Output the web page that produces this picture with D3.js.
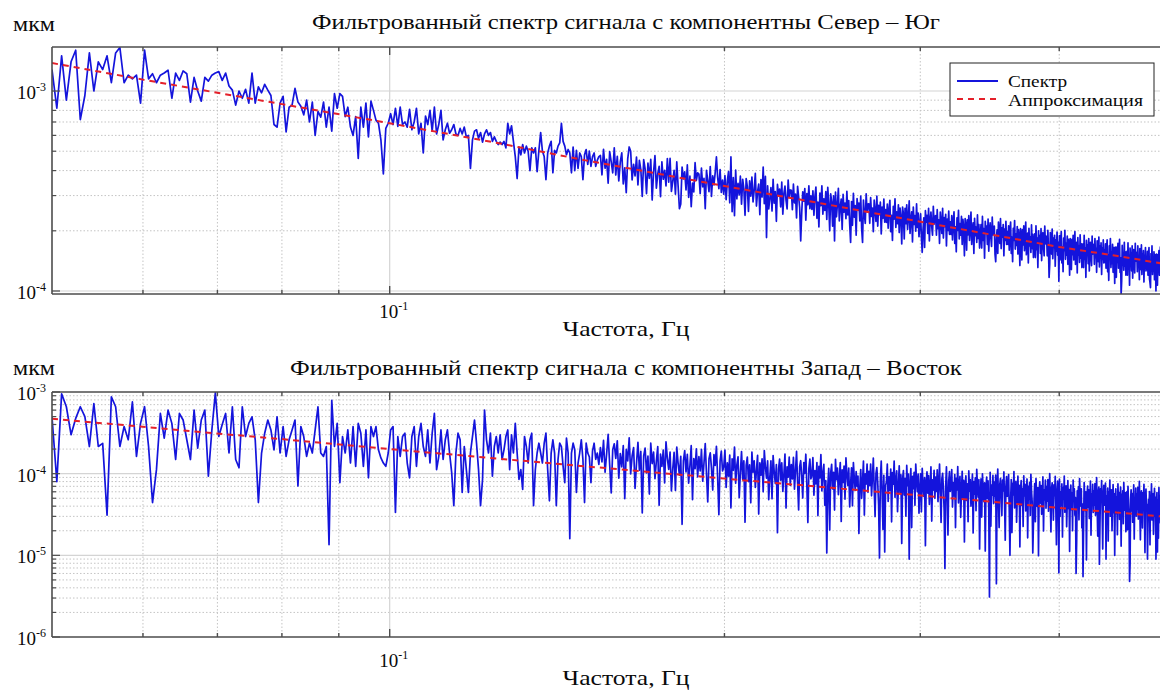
<!DOCTYPE html>
<html><head><meta charset="utf-8">
<script src="https://cdn.jsdelivr.net/npm/d3@7"></script>
<style>
body{margin:0;background:#fff}
svg{display:block;background:#fff}
</style>
</head><body>
<svg id="chart" width="1160" height="690"></svg>
<script>
// Frequency grid of the spectra (Hz): uniform step
const freqStart = 0.0497, freqStep = 0.0005;

// North–South spectrum, units of 1e-6 мкм
const nsSpectrum = [
1280,820,1500,900,1400,1600,720,950,1550,1000,
1400,1280,1500,1100,1550,1650,1100,1200,1150,1200,
870,1600,1150,1220,1100,1200,1230,1270,920,1230,
1130,1260,1220,880,1170,1000,890,1170,1120,1200,
1230,1250,1130,1230,1060,1010,850,1000,920,1020,
870,1230,870,1050,980,1080,1010,950,680,660,
870,940,625,830,850,1030,880,840,760,900,
700,880,600,790,740,880,660,830,630,970,
820,970,940,745,830,660,600,745,460,830,
660,870,590,890,800,715,690,570,385,650,
690,770,680,820,665,830,680,700,660,810,
640,700,820,610,690,490,750,680,800,630,
830,610,680,800,570,640,690,615,640,680,
610,600,650,610,660,590,600,410,570,630,
640,580,620,555,610,640,600,620,560,590,
560,540,555,540,560,520,690,610,670,560,
470,365,525,480,540,490,530,500,400,520,
490,520,395,505,620,500,470,360,490,530,
560,390,505,490,530,550,690,560,530,480,
510,490,390,525,400,505,410,490,470,360,
480,510,430,500,420,470,490,420,450,470,
476,381,511,411,455,346,498,442,390,520,
380,471,355,442,491,343,413,310,458,525,500,359,430,376,467,339,450,405,297,454,
408,307,436,366,455,285,393,475,327,385,420,296,443,362,401,335,459,350,460,315,
353,401,305,442,335,258,272,416,364,394,320,427,294,375,264,346,313,438,357,390,
384,307,412,332,366,258,401,356,314,419,297,377,339,391,468,370,325,405,311,359,
305,378,286,355,395,276,468,249,369,238,402,289,345,302,375,272,362,325,239,365,
333,250,355,298,371,279,320,387,266,314,342,241,361,295,417,273,374,185,336,257,
290,329,251,362,275,314,223,341,299,323,263,350,242,308,335,284,257,359,293,320,
319,255,342,276,305,232,334,296,261,178,247,313,281,325,226,307,270,336,258,299,
256,317,239,297,331,231,278,209,309,267,336,242,289,253,314,228,330,272,200,306,
280,211,299,178,312,235,270,326,224,264,288,203,304,248,275,230,315,240,283,216,
175,280,213,308,234,267,190,290,254,275,224,298,206,175,285,242,218,306,249,272,
273,218,293,236,260,198,285,253,223,298,211,268,241,278,193,263,231,288,221,255,
220,272,206,256,284,198,239,179,265,229,289,208,249,217,270,196,260,234,172,263,
243,182,259,217,270,203,233,282,194,229,249,176,263,215,238,199,273,208,245,187,
214,243,185,156,203,232,165,252,221,239,194,259,178,227,248,210,190,265,216,236,
238,190,255,205,227,173,248,220,194,259,184,233,210,242,168,229,201,251,192,222,
192,238,180,224,249,173,209,157,232,201,253,182,217,190,236,171,228,205,150,230,
213,160,227,191,238,179,205,248,171,201,219,154,231,189,209,175,240,183,215,164,
189,215,164,236,179,205,146,223,195,211,171,229,158,201,219,185,167,234,191,209,
211,153,140,182,202,154,221,196,173,230,163,207,186,215,150,204,179,223,171,198,
171,212,160,199,221,154,186,140,206,179,225,162,193,169,210,153,203,182,134,205,
190,143,203,170,212,159,183,221,152,179,195,138,206,168,186,156,214,163,192,147,
170,193,147,212,161,184,131,200,175,189,154,205,142,181,196,166,150,211,172,188,
187,150,201,162,117,136,196,173,153,204,145,184,165,190,133,180,158,197,151,175,
112,189,143,178,198,138,166,125,184,159,201,144,173,151,188,136,181,163,120,183,
170,128,181,152,190,143,164,198,136,160,175,123,185,151,167,139,191,146,172,131,
152,172,131,190,144,164,117,179,156,169,137,183,126,161,175,149,134,188,153,167,
171,136,183,147,163,124,178,158,140,186,132,167,150,174,121,164,144,180,138,160,
139,172,130,162,180,125,151,113,168,145,183,131,157,137,171,124,165,148,109,166,
155,117,166,139,173,130,149,181,124,147,96,112,169,138,152,127,175,133,157,120,
139,158,120,174,132,151,107,164,144,155,126,168,116,148,161,136,123,173,141,154,
156,125,168,135,149,114,163,145,128,170,121,153,138,159,111,151,132,165,126,146,
128,158,120,149,165,115,110,104,154,133,168,121,145,126,157,114,152,136,100,153,
143,107,152,128,159,120,137,166,114,135,147,103,155,126,140,117,160,122,144,110,130
];

// West–East spectrum, units of 1e-7 мкм
const ewSpectrum = [
4950,800,9500,6600,3000,4750,6600,5000,2150,7200,
2150,2350,310,8700,6600,2150,3770,2600,7550,1630,
4130,6600,2150,443,1120,5460,2720,6000,4130,1490,
5460,4540,2600,1490,6000,2050,4540,6000,930,3430,
9800,2850,4000,5460,1790,6600,1490,1180,6600,2850,
4130,4970,2600,443,1790,3130,4540,3430,1960,4970,
1790,3770,1630,2600,3430,4540,705,3770,2850,1630,
2360,1790,3430,6600,1790,1630,2150,135,7920,2150,
4130,775,2850,1790,3430,1350,3770,1230,4130,3130,
1230,3430,890,3770,2850,3770,1960,1560,1350,1230,
1790,3430,3770,335,2850,1630,2850,3130,1350,890,
2850,3770,1230,2850,4130,2150,1630,3430,1350,3130,
5460,1120,1630,3430,1490,2600,3430,1790,1030,405,
1790,3130,2600,590,2150,1120,590,1790,2850,4540,
2360,1120,405,850,6000,2600,1790,3130,930,2150,
2850,1790,2990,1490,1960,2850,3430,1120,2990,1790,
4130,1790,850,1120,640,2850,2150,1350,2600,3130,
405,1120,1790,2360,1790,1350,2360,3130,1120,465,
1790,2600,1790,405,1490,2360,2150,1230,775,2720,
1790,160,1790,2360,1960,590,1350,1790,2600,1490,
443,2360,1790,1600,775,1900,2360,1500,1790,1300,
2090,1390,2550,1040,1740,3020,1280,580,1970,2320,
1540,2530,880,1760,1210,2200,495,1980,1430,2750,990,1650,2090,660,1320,2420,1100,1870,330,1650,
2050,1020,1640,563,2360,1330,1840,870,1430,2150,410,1740,1230,1950,770,2460,1540,1130,1840,614,
1150,1820,623,2110,1340,958,1630,240,1440,1920,1050,1720,766,1250,2200,479,1530,1150,2010,910,
1620,1080,1980,810,1350,2340,990,450,1530,1800,1170,630,1710,1260,2160,900,315,1440,1890,1080,
1190,1950,678,1360,932,1690,381,1520,1100,2120,762,1270,1610,508,1020,1860,847,1440,254,1270,
1600,800,1280,440,1840,1040,1440,680,1120,1680,320,1360,960,1520,600,1920,1200,880,1440,480,
908,1440,492,1670,1060,757,1290,189,1140,1510,833,1360,606,984,1740,379,1210,908,1590,719,
1290,863,1580,647,1080,1870,791,360,1220,1440,935,503,1370,1010,1730,719,252,1150,1510,863,
956,1570,546,1090,751,1370,307,1230,888,1710,615,1020,1300,410,820,107,683,1160,205,1020,
1300,651,1040,358,1500,846,1170,553,911,1370,260,1110,781,1240,488,1560,977,716,1170,391,
746,1180,404,1370,871,622,1060,700,933,185,684,1120,498,809,1430,311,995,746,1310,591,
1070,714,1310,536,893,1550,655,298,1010,1190,774,417,93,833,1430,595,208,952,110,714,
798,1310,456,912,627,1140,257,1030,741,1430,513,855,1080,342,684,1250,570,969,140,855,
1090,547,875,301,1260,711,985,90,766,1150,219,930,656,1040,410,1310,821,602,985,328,
630,998,341,1160,735,525,893,131,788,1050,578,945,420,683,1210,263,840,630,1100,499,
909,606,1110,455,758,1310,556,253,859,1010,657,354,69,707,1210,505,177,808,1060,606,
682,1120,390,779,536,974,219,877,633,1220,438,731,925,292,584,1070,487,828,146,731,
938,469,750,258,1080,610,844,399,657,985,188,797,563,891,352,1130,704,516,844,120,
544,861,294,997,634,453,770,113,680,906,498,815,362,31,1040,227,725,544,951,430,
788,526,963,45,657,1140,482,219,745,876,569,307,832,613,1050,438,153,701,920,526,
592,973,338,100,465,846,190,761,550,1060,381,635,804,254,508,931,423,719,127,635,
820,410,656,226,943,533,738,349,574,861,164,697,492,779,308,984,615,451,107,246,
476,754,258,873,556,397,675,99,596,794,437,715,318,516,913,199,635,476,834,377,
693,462,847,347,578,1000,424,193,655,770,501,270,732,539,924,385,135,616,809,462,
61,860,299,598,411,748,168,673,486,935,337,561,711,224,449,823,374,636,112,561,
726,363,581,200,835,472,653,309,508,60,145,617,436,690,272,871,545,399,653,218,
424,55,229,777,494,353,600,88,530,706,388,635,282,459,812,177,565,424,741,335,
617,412,755,309,515,892,377,172,583,686,78,240,652,480,823,343,120,549,720,412,
468,768,90,534,367,668,150,601,434,835,301,501,635,200,401,735,334,568,100,501,
650,325,520,179,748,423,585,276,455,683,130,553,390,618,244,780,488,358,585,195,
380,602,206,697,444,317,48,79,476,634,349,571,254,412,729,159,507,380,666,301,
556,371,680,278,464,803,340,155,525,618,402,216,587,433,742,309,108,494,649,371,
421,90,241,482,331,602,135,542,391,753,271,452,572,181,361,662,301,512,90,452,
588,110,470,162,676,382,529,250,412,617,118,500,353,559,221,706,441,323,529,176,400
];

// Approximation curves (red dashed), read at nodes
const approxFreq = [0.0497,0.06,0.07,0.08,0.1,0.125,0.15,0.2,0.25,0.3,0.35,0.4,0.45,0.5];
const nsApprox   = [1380,1140,980,860,690,550,450,335,268,222,190,166,150,136];     // 1e-6
const ewApprox   = [4700,3750,3100,2650,2000,1530,1230,870,670,540,450,380,335,295]; // 1e-7

const xMinorTicks = [0.06,0.07,0.08,0.09,0.2,0.3,0.4,0.5];
const xMajorTicks = [0.1];
const titles = ["Фильтрованный спектр сигнала с компонентны Север – Юг",
                "Фильтрованный спектр сигнала с компонентны Запад – Восток"];
const legendLabels = ["Спектр","Аппроксимация"];

const FONT = "'Liberation Serif', 'DejaVu Serif', serif";
const svg = d3.select("#chart");
const W = 1160, H = 690;
svg.append("rect").attr("width",W).attr("height",H).attr("fill","#fff");

const x = d3.scaleLog().domain([0.0497, 0.5]).range([52, 1167]);
const X0 = 52, X1 = 1167;

const panels = [
  {title:titles[0], titleW:628, data:nsSpectrum, unit:1e-6, approx:nsApprox,
   y:d3.scaleLog().domain([9.66e-5,1.66e-3]).range([294,47]),
   top:47, bottom:294, yMajor:[1e-3,1e-4], titleY:29, unitY:31, tickLabY:318, xLabY:336, legend:true},
  {title:titles[1], titleW:672, data:ewSpectrum, unit:1e-7, approx:ewApprox,
   y:d3.scaleLog().domain([1e-6,1e-3]).range([637,392]),
   top:392, bottom:637, yMajor:[1e-3,1e-4,1e-5,1e-6], titleY:375, unitY:375, tickLabY:667, xLabY:685, legend:false}
];

const blue = "#1414dc", red = "#e4202a", axisCol = "#4d4d4d";

function addText(g, attrs, str) {
  const t = g.append("text").style("font-family", FONT).attr("fill", "#0a0a0a");
  Object.entries(attrs).forEach(([k,v]) => t.attr(k, v));
  if (str !== undefined) t.text(str);
  return t;
}

panels.forEach((p, k) => {
  const g = svg.append("g");
  const y = p.y;
  const [dlo, dhi] = y.domain();
  const yMinor = [];
  for (let e = Math.floor(Math.log10(dlo)); e <= Math.ceil(Math.log10(dhi)); e++) {
    for (let m = 2; m <= 9; m++) {
      const v = m * Math.pow(10, e);
      if (v > dlo && v < dhi) yMinor.push(v);
    }
  }
  g.selectAll(".gyMinor").data(yMinor).enter().append("line")
    .attr("x1",X0).attr("x2",X1).attr("y1",d=>y(d)).attr("y2",d=>y(d))
    .attr("stroke","#c4c4c4").attr("stroke-width",1).attr("stroke-dasharray","1.5,2");
  g.selectAll(".gxMinor").data(xMinorTicks).enter().append("line")
    .attr("x1",d=>x(d)).attr("x2",d=>x(d)).attr("y1",p.top).attr("y2",p.bottom)
    .attr("stroke","#c4c4c4").attr("stroke-width",1).attr("stroke-dasharray","1.5,2");
  g.selectAll(".gyMajor").data(p.yMajor.filter(v=>v>dlo*1.001 && v<dhi*0.999)).enter().append("line")
    .attr("x1",X0).attr("x2",X1).attr("y1",d=>y(d)).attr("y2",d=>y(d))
    .attr("stroke","#d4d4d4").attr("stroke-width",1.2);
  g.selectAll(".gxMajor").data(xMajorTicks).enter().append("line")
    .attr("x1",d=>x(d)).attr("x2",d=>x(d)).attr("y1",p.top).attr("y2",p.bottom)
    .attr("stroke","#d4d4d4").attr("stroke-width",1.2);

  const cid = "clip"+k;
  svg.append("clipPath").attr("id",cid).append("rect")
    .attr("x",X0).attr("y",p.top).attr("width",X1-X0).attr("height",p.bottom-p.top);

  const pts = p.data.map((v,i)=>({f:freqStart+freqStep*i, v:v*p.unit}));
  const line = d3.line().x(d=>x(d.f)).y(d=>y(d.v));
  g.append("path").datum(pts).attr("clip-path",`url(#${cid})`)
    .attr("d",line).attr("fill","none").attr("stroke",blue)
    .attr("stroke-width",1.7).attr("stroke-linejoin","round");

  const apts = approxFreq.map((f,i)=>({f, v:p.approx[i]*p.unit}));
  g.append("path").datum(apts).attr("clip-path",`url(#${cid})`)
    .attr("d",line).attr("fill","none").attr("stroke",red)
    .attr("stroke-width",2).attr("stroke-dasharray","6,5");

  g.append("line").attr("x1",X0).attr("x2",X1).attr("y1",p.top).attr("y2",p.top)
    .attr("stroke",axisCol).attr("stroke-width",1.5);
  g.append("line").attr("x1",X0).attr("x2",X1).attr("y1",p.bottom).attr("y2",p.bottom)
    .attr("stroke",axisCol).attr("stroke-width",1.6);
  g.append("line").attr("x1",X0).attr("x2",X0).attr("y1",p.top).attr("y2",p.bottom)
    .attr("stroke",axisCol).attr("stroke-width",1.6);

  const xt = xMinorTicks.map(v=>({v,len:4})).concat(xMajorTicks.map(v=>({v,len:8})));
  xt.forEach(t=>{
    g.append("line").attr("x1",x(t.v)).attr("x2",x(t.v)).attr("y1",p.bottom).attr("y2",p.bottom-t.len)
      .attr("stroke",axisCol).attr("stroke-width",1.4);
    g.append("line").attr("x1",x(t.v)).attr("x2",x(t.v)).attr("y1",p.top).attr("y2",p.top+t.len)
      .attr("stroke",axisCol).attr("stroke-width",1.4);
  });
  yMinor.forEach(v=>{
    g.append("line").attr("x1",X0).attr("x2",X0+4).attr("y1",y(v)).attr("y2",y(v))
      .attr("stroke",axisCol).attr("stroke-width",1.2);
  });
  p.yMajor.forEach(v=>{
    g.append("line").attr("x1",X0).attr("x2",X0+8).attr("y1",y(v)).attr("y2",y(v))
      .attr("stroke",axisCol).attr("stroke-width",1.2);
    const t = addText(g, {x:46, y:y(v)+8, "text-anchor":"end", "font-size":19});
    t.append("tspan").text("10");
    t.append("tspan").attr("dy",-8).attr("font-size",12).text(String(Math.round(Math.log10(v))));
  });
  xMajorTicks.forEach(v=>{
    const t = addText(g, {x:x(v)+4, y:p.tickLabY, "text-anchor":"middle", "font-size":19});
    t.append("tspan").text("10");
    t.append("tspan").attr("dy",-8).attr("font-size",12).text(String(Math.round(Math.log10(v))));
  });
  addText(g, {x:626, y:p.xLabY, "text-anchor":"middle", "font-size":22,
              textLength:127, lengthAdjust:"spacingAndGlyphs"}, "Частота, Гц");
  addText(g, {x:626, y:p.titleY, "text-anchor":"middle", "font-size":22,
              textLength:p.titleW, lengthAdjust:"spacingAndGlyphs"}, p.title);
  addText(g, {x:13, y:p.unitY, "font-size":21, textLength:42, lengthAdjust:"spacingAndGlyphs"}, "мкм");

  if (p.legend) {
    const lg = g.append("g");
    lg.append("rect").attr("x",950).attr("y",63).attr("width",204).attr("height",53)
      .attr("fill","#fff").attr("stroke","#222").attr("stroke-width",1);
    lg.append("line").attr("x1",957).attr("x2",998).attr("y1",81).attr("y2",81)
      .attr("stroke",blue).attr("stroke-width",2);
    lg.append("line").attr("x1",957).attr("x2",998).attr("y1",99).attr("y2",99)
      .attr("stroke",red).attr("stroke-width",2).attr("stroke-dasharray","6,5");
    addText(lg, {x:1008, y:87, "font-size":16, textLength:59, lengthAdjust:"spacingAndGlyphs"}, legendLabels[0]);
    addText(lg, {x:1008, y:106, "font-size":16, textLength:135, lengthAdjust:"spacingAndGlyphs"}, legendLabels[1]);
  }
});
</script>
</body></html>
